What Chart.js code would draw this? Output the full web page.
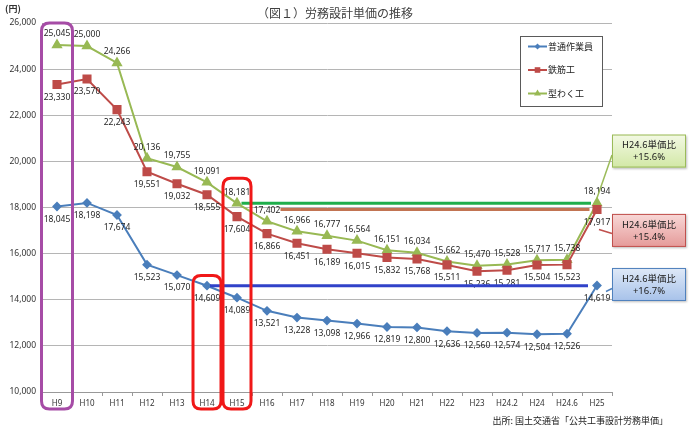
<!DOCTYPE html>
<html>
<head>
<meta charset="utf-8">
<script src="https://cdn.jsdelivr.net/npm/chart.js@4.4.1/dist/chart.umd.min.js"></script>
<style>
  html, body { margin: 0; padding: 0; background: #fff; }
</style>
</head>
<body>
<canvas id="myChart" width="690" height="428"></canvas>
<script>
// ---- data ----
const categories = ['H9', 'H10', 'H11', 'H12', 'H13', 'H14', 'H15', 'H16', 'H17', 'H18',
    'H19', 'H20', 'H21', 'H22', 'H23', 'H24.2', 'H24', 'H24.6', 'H25'];
const seriesNames = ['普通作業員', '鉄筋工', '型わく工'];
const worker = [18045, 18198, 17674, 15523, 15070, 14609, 14089, 13521, 13228, 13098,
    12966, 12819, 12800, 12636, 12560, 12574, 12504, 12526, 14619];
const rebar = [23330, 23570, 22243, 19551, 19032, 18555, 17604, 16866, 16451, 16189,
    16015, 15832, 15768, 15511, 15236, 15281, 15504, 15523, 17917];
const formwork = [25045, 25000, 24266, 20136, 19755, 19091, 18181, 17402, 16966, 16777,
    16564, 16151, 16034, 15662, 15470, 15528, 15717, 15738, 18194];
const yTicks = [10000, 12000, 14000, 16000, 18000, 20000, 22000, 24000, 26000];

// highlighted columns and the value where each frame starts
const highlightCats = ['H9', 'H14', 'H15'];
const highlightTops = [26000, 15050, 19270];

const titleText = '（図１）労務設計単価の推移';
const unitText = '(円)';
const sourceText = '出所: 国土交通省「公共工事設計労務単価」';

const JP = '"Noto Sans CJK JP", "Noto Sans", sans-serif';
const NUM = '"Noto Sans", "DejaVu Sans", sans-serif';
const colors = ['#4a7ebb', '#be4b48', '#98b954'];
const labelOffsets = [13, 13, -11];

// reference levels: H14 worker, H15 formwork, H25 rebar
const refLines = [
    { value: worker[5], from: 5.1, to: 17.7, color: '#3142c9' },
    { value: formwork[6], from: 6.15, to: 17.8, color: '#1fae4b' },
    { value: rebar[18], from: 7.45, to: 17.75, color: '#c27452' }
];

function pct(arr) {
    const n = arr.length;
    return '+' + ((arr[n - 1] / arr[n - 2] - 1) * 100).toFixed(1) + '%';
}

const callouts = [
    { ds: 2, lines: ['H24.6単価比', pct(formwork)], dy: -52, fill: ['#f3f9e4', '#d2e8a6'], border: '#9bbb59', lead: [0, -5], from: 4 },
    { ds: 1, lines: ['H24.6単価比', pct(rebar)], dy: 21, fill: ['#f8d8d7', '#e59a99'], border: '#c0504d', lead: [2, 20], from: 3 },
    { ds: 0, lines: ['H24.6単価比', pct(worker)], dy: -1, fill: ['#dfe9f7', '#a7c2ea'], border: '#4f81bd', lead: [9, 6], from: 4 }
];

function fmt(v) {
    return v.toLocaleString('en-US');
}

function marker(ctx, style, x, y, r, color) {
    ctx.save();
    ctx.fillStyle = color;
    ctx.beginPath();
    if (style === 'rectRot') {
        ctx.moveTo(x, y - r); ctx.lineTo(x + r, y); ctx.lineTo(x, y + r); ctx.lineTo(x - r, y);
    } else if (style === 'rect') {
        ctx.rect(x - r * 0.7, y - r * 0.7, r * 1.4, r * 1.4);
    } else {
        ctx.moveTo(x, y - r); ctx.lineTo(x + r * 0.87, y + r * 0.5); ctx.lineTo(x - r * 0.87, y + r * 0.5);
    }
    ctx.closePath();
    ctx.fill();
    ctx.restore();
}

function roundFrame(ctx, x0, y0, x1, y1, r) {
    ctx.beginPath();
    ctx.moveTo(x0 + r, y0);
    ctx.lineTo(x1 - r, y0);
    ctx.quadraticCurveTo(x1, y0, x1, y0 + r);
    ctx.lineTo(x1, y1 - r);
    ctx.quadraticCurveTo(x1, y1, x1 - r, y1);
    ctx.lineTo(x0 + r, y1);
    ctx.quadraticCurveTo(x0, y1, x0, y1 - r);
    ctx.lineTo(x0, y0 + r);
    ctx.quadraticCurveTo(x0, y0, x0 + r, y0);
    ctx.closePath();
}

const decor = {
    id: 'decor',
    afterDatasetsDraw(chart) {
        const ctx = chart.ctx;
        const xs = chart.scales.x, ys = chart.scales.y;
        // value labels
        ctx.save();
        ctx.font = '8.5px ' + NUM;
        ctx.fillStyle = '#262626';
        ctx.textAlign = 'center';
        ctx.textBaseline = 'middle';
        chart.data.datasets.forEach((ds, i) => {
            chart.getDatasetMeta(i).data.forEach((pt, j) => {
                ctx.fillText(fmt(ds.data[j]), pt.x, pt.y + labelOffsets[i]);
            });
        });
        ctx.restore();
        // reference levels
        ctx.save();
        ctx.lineWidth = 3;
        refLines.forEach(l => {
            const y = ys.getPixelForValue(l.value);
            ctx.strokeStyle = l.color;
            ctx.beginPath();
            ctx.moveTo(xs.getPixelForValue(l.from), y);
            ctx.lineTo(xs.getPixelForValue(l.to), y);
            ctx.stroke();
        });
        ctx.restore();
    },
    afterDraw(chart) {
        const ctx = chart.ctx;
        const xs = chart.scales.x, ys = chart.scales.y;
        const area = chart.chartArea;

        // highlight frames
        ctx.save();
        ctx.lineWidth = 3;
        highlightCats.forEach((c, k) => {
            const cx = xs.getPixelForValue(categories.indexOf(c));
            const half = k === 0 ? 15.5 : 14;
            ctx.strokeStyle = k === 0 ? '#a64ca6' : '#f01818';
            roundFrame(ctx, cx - half, ys.getPixelForValue(highlightTops[k]), cx + half, area.bottom + 17, 8);
            ctx.stroke();
        });
        ctx.restore();

        // legend box
        const lx = area.right - 92, ly = area.top + 13, lw = 82, lh = 70;
        ctx.save();
        ctx.fillStyle = '#fff';
        ctx.fillRect(lx, ly, lw, lh);
        ctx.strokeStyle = '#5a5a5a';
        ctx.lineWidth = 1;
        ctx.strokeRect(lx + 0.5, ly + 0.5, lw, lh);
        ctx.font = '9px ' + JP;
        ctx.textBaseline = 'middle';
        chart.data.datasets.forEach((ds, i) => {
            const y = ly + 10.5 + i * 23.5;
            ctx.strokeStyle = colors[i];
            ctx.lineWidth = 2;
            ctx.beginPath();
            ctx.moveTo(lx + 8, y);
            ctx.lineTo(lx + 27, y);
            ctx.stroke();
            marker(ctx, ds.pointStyle, lx + 17.5, y, i === 0 ? 3 : 4, colors[i]);
            ctx.fillStyle = '#222';
            ctx.fillText(ds.label, lx + 28, y);
        });
        ctx.restore();

        // callouts
        callouts.forEach(c => {
            const pt = chart.getDatasetMeta(c.ds).data[categories.length - 1];
            const bx = area.right, bw = 74, bh = 33;
            const by = pt.y + c.dy - bh / 2;
            ctx.save();
            ctx.strokeStyle = c.border;
            ctx.lineWidth = 1.5;
            ctx.beginPath();
            ctx.moveTo(bx, pt.y + c.dy + c.from);
            ctx.lineTo(pt.x + c.lead[0], pt.y + c.lead[1]);
            ctx.stroke();
            ctx.shadowColor = 'rgba(0,0,0,0.25)';
            ctx.shadowOffsetX = 1;
            ctx.shadowOffsetY = 1;
            ctx.shadowBlur = 2;
            const g = ctx.createLinearGradient(0, by, 0, by + bh);
            g.addColorStop(0, c.fill[0]);
            g.addColorStop(1, c.fill[1]);
            ctx.fillStyle = g;
            ctx.fillRect(bx, by, bw, bh);
            ctx.shadowColor = 'transparent';
            ctx.lineWidth = 1;
            ctx.strokeRect(bx + 0.5, by + 0.5, bw - 1, bh - 1);
            ctx.fillStyle = '#222';
            ctx.textAlign = 'center';
            ctx.textBaseline = 'middle';
            ctx.font = '9.5px ' + JP;
            ctx.fillText(c.lines[0], bx + bw / 2, by + 10);
            ctx.font = '9.5px ' + NUM;
            ctx.fillText(c.lines[1], bx + bw / 2, by + 23);
            ctx.restore();
        });

        // texts
        ctx.save();
        ctx.fillStyle = '#404040';
        ctx.textBaseline = 'middle';
        ctx.textAlign = 'center';
        ctx.font = '12px ' + JP;
        ctx.fillText(titleText, 335, 13);
        ctx.textAlign = 'left';
        ctx.font = 'bold 9px ' + JP;
        ctx.fillStyle = '#333';
        ctx.fillText(unitText, 5, 9);
        ctx.textAlign = 'right';
        ctx.font = '9px ' + JP;
        ctx.fillStyle = '#222';
        ctx.fillText(sourceText, 668, 421);
        ctx.restore();
    }
};

const ctx = document.getElementById('myChart').getContext('2d');
new Chart(ctx, {
    type: 'line',
    data: {
        labels: categories,
        datasets: [{
            label: seriesNames[0],
            data: worker,
            borderColor: colors[0],
            backgroundColor: colors[0],
            pointStyle: 'rectRot',
            pointRadius: 3.5,
            borderWidth: 2
        }, {
            label: seriesNames[1],
            data: rebar,
            borderColor: colors[1],
            backgroundColor: colors[1],
            pointStyle: 'rect',
            pointRadius: 5,
            borderWidth: 2
        }, {
            label: seriesNames[2],
            data: formwork,
            borderColor: colors[2],
            backgroundColor: colors[2],
            pointStyle: 'triangle',
            pointRadius: 4.5,
            borderWidth: 2
        }]
    },
    options: {
        responsive: false,
        animation: false,
        devicePixelRatio: 1,
        layout: {
            padding: { top: 23, right: 78, bottom: 10, left: 0 }
        },
        elements: {
            line: { tension: 0 },
            point: { borderWidth: 0, hoverRadius: 4 }
        },
        scales: {
            x: {
                offset: true,
                grid: {
                    display: true,
                    drawOnChartArea: false,
                    drawTicks: true,
                    tickLength: 4,
                    offset: true,
                    color: '#999'
                },
                border: { color: '#999' },
                ticks: {
                    color: '#333',
                    font: { size: 8, family: NUM },
                    padding: 3,
                    maxRotation: 0,
                    autoSkip: false
                },
                afterFit: function(scale) { scale.height = 26; }
            },
            y: {
                min: yTicks[0],
                max: yTicks[yTicks.length - 1],
                afterBuildTicks: function(scale) {
                    scale.ticks = yTicks.map(v => ({ value: v }));
                },
                grid: { color: '#b5b5b5', drawTicks: false },
                border: { display: true, color: '#a8a8a8' },
                ticks: {
                    color: '#333',
                    font: { size: 8.5, family: NUM },
                    padding: 6,
                    callback: function(v) { return fmt(v); }
                },
                afterFit: function(scale) { scale.width = 42; }
            }
        },
        plugins: {
            legend: { display: false },
            tooltip: { enabled: false }
        }
    },
    plugins: [decor]
});
</script>
</body>
</html>
